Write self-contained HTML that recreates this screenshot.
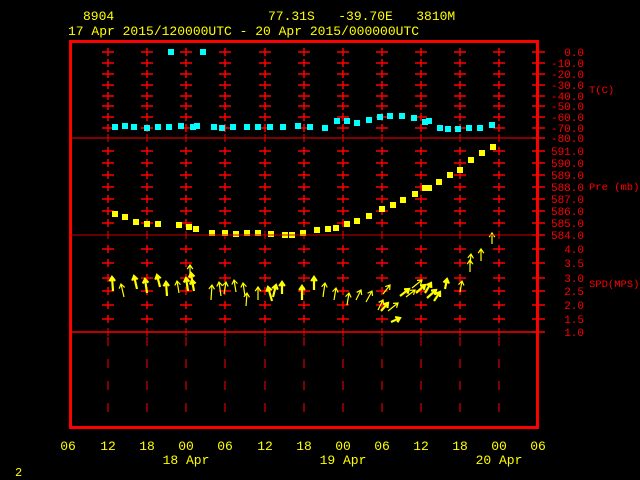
<!DOCTYPE html>
<html><head><meta charset="utf-8"><style>
html,body{margin:0;padding:0;background:#000;}
svg{display:block;}
text{font-family:"Liberation Mono","DejaVu Sans Mono",monospace;}
</style></head><body>
<svg id="s" width="640" height="480" viewBox="0 0 640 480" xmlns="http://www.w3.org/2000/svg">
<rect width="640" height="480" fill="#000"/>
<g id="grid"></g>
<g id="data"></g>
<rect x="70.5" y="41.5" width="467" height="386" fill="none" stroke="#f00" stroke-width="3"/>
<line x1="70" y1="138" x2="538" y2="138" stroke="#f00" stroke-width="1"/>
<line x1="70" y1="235" x2="538" y2="235" stroke="#c00" stroke-width="1"/>
<line x1="70" y1="332" x2="538" y2="332" stroke="#f00" stroke-width="1.5"/>
<g fill="#ff0" font-size="13">
<text x="83" y="20">8904</text>
<text x="268" y="20" xml:space="preserve">77.31S   -39.70E   3810M</text>
<text x="68" y="35">17 Apr 2015/120000UTC - 20 Apr 2015/000000UTC</text>
<g text-anchor="middle">
<text x="68" y="450">06</text><text x="108" y="450">12</text><text x="147" y="450">18</text>
<text x="186" y="450">00</text><text x="225" y="450">06</text><text x="265" y="450">12</text>
<text x="304" y="450">18</text><text x="343" y="450">00</text><text x="382" y="450">06</text>
<text x="421" y="450">12</text><text x="460" y="450">18</text><text x="499" y="450">00</text>
<text x="538" y="450">06</text>
<text x="186" y="464">18 Apr</text><text x="343" y="464">19 Apr</text><text x="499" y="464">20 Apr</text>
</g>
<text x="15" y="476" font-size="12">2</text>
</g>
<g fill="#f00" font-size="11" text-anchor="end" id="rl"></g>
<g fill="#f00" font-size="10.5">
<text x="589" y="93">T(C)</text>
<text x="589" y="190">Pre (mb)</text>
<text x="589" y="287">SPD(MPS)</text>
</g>
</svg>
<script>
var NS="http://www.w3.org/2000/svg";
function el(p,t,a){var e=document.createElementNS(NS,t);for(var k in a)e.setAttribute(k,a[k]);p.appendChild(e);return e;}
var g=document.getElementById('grid'),d=document.getElementById('data'),rl=document.getElementById('rl');
var ticks=[[52,"0.0"],[63,"-10.0"],[74,"-20.0"],[85,"-30.0"],[96,"-40.0"],[106,"-50.0"],[117,"-60.0"],[128,"-70.0"],[138,"-80.0"],
[151,"591.0"],[163,"590.0"],[175,"589.0"],[187,"588.0"],[199,"587.0"],[211,"586.0"],[223,"585.0"],[235,"584.0"],
[249,"4.0"],[263,"3.5"],[278,"3.0"],[291,"2.5"],[305,"2.0"],[319,"1.5"],[332,"1.0"]];
var xs=[108,147,186,225,265,304,343,382,421,460,499];
xs.forEach(function(x){
  var c="#f00";
  ticks.forEach(function(t){
    if(t[0]==138||t[0]==235||t[0]==332){el(g,'line',{x1:x,y1:t[0]-4,x2:x,y2:t[0]+4,stroke:c,'stroke-width':1});return;}
    el(g,'line',{x1:x,y1:t[0]-4,x2:x,y2:t[0]+4,stroke:c,'stroke-width':1.5});
    el(g,'line',{x1:x-6,y1:t[0],x2:x+6,y2:t[0],stroke:c,'stroke-width':1.5});
  });
  for(var y=337;y<420;y+=22) el(g,'line',{x1:x,y1:y,x2:x,y2:y+9,stroke:"#f00",'stroke-width':1});
});
ticks.forEach(function(t){
  el(g,'line',{x1:532,y1:t[0],x2:545,y2:t[0],stroke:"#f00",'stroke-width':1.5});
  var tx=el(rl,'text',{x:584,y:t[0]+4});tx.textContent=t[1];
});
var T=[[171,52],[203,52],[115,127],[125,126],[134,127],[147,128],[158,127],[169,127],[181,126],[193,127],[197,126],[214,127],[222,128],[233,127],[247,127],[258,127],[270,127],[283,127],[298,126],[310,127],[325,128],[337,121],[347,121],[357,123],[369,120],[380,117],[390,116],[402,116],[414,118],[425,122],[429,121],[440,128],[448,129],[458,129],[469,128],[480,128],[492,125]];
T.forEach(function(p){el(d,'rect',{x:p[0]-3,y:p[1]-3,width:6,height:6,fill:"#0ff"});});
var P=[[115,214],[125,217],[136,222],[147,224],[158,224],[179,225],[189,227],[196,229],[212,233],[225,233],[236,234],[247,233],[258,233],[271,234],[285,235],[292,235],[303,233],[317,230],[328,229],[336,228],[347,224],[357,221],[369,216],[382,209],[393,205],[403,200],[415,194],[425,188],[429,188],[439,182],[450,175],[460,170],[471,160],[482,153],[493,147]];
P.forEach(function(p){el(d,'rect',{x:p[0]-3,y:p[1]-3,width:6,height:6,fill:"#ff0"});});
var A=[[112,277,113,291,3],[121,284,124,297,1],[134,276,137,289,3],[145,279,147,293,3],[157,275,160,287,3],[166,282,167,296,2],[177,281,179,293,1],[190,265,190,278,1],[191,273,193,286,2],[192,280,194,291,3],[186,278,188,291,2],[212,285,211,300,1],[219,282,221,296,1],[226,282,224,294,1],[234,280,236,292,1],[243,283,245,296,1],[247,293,246,306,1],[258,287,258,300,1],[268,287,272,301,3],[276,285,273,297,2],[282,282,282,294,2],[302,286,302,300,3],[314,277,314,290,3],[325,283,323,297,1],[336,288,334,300,1],[349,293,347,305,1],[361,290,356,300,1],[372,291,366,302,1],[383,300,378,310,1],[390,285,383,294,1],[388,303,381,311,3],[398,303,388,311,1],[400,318,391,322,2],[409,289,400,296,2],[415,290,406,297,1],[422,280,412,288,1],[425,285,416,293,3],[431,283,425,293,3],[436,290,427,298,2],[440,292,434,301,3],[447,279,445,289,3],[462,281,460,292,1],[471,254,470,265,1],[470,260,470,272,1],[481,249,481,261,1],[492,233,492,244,1]];
A.forEach(function(a){
  var tx=a[0],ty=a[1],bx=a[2],by=a[3],w=a[4];
  var dx=tx-bx,dy=ty-by,L=Math.sqrt(dx*dx+dy*dy);var ux=dx/L,uy=dy/L;
  var h=5;
  var c=Math.cos(0.6),s=Math.sin(0.6);
  var lx=tx-h*(ux*c-uy*s),ly=ty-h*(uy*c+ux*s);
  var rx=tx-h*(ux*c+uy*s),ry=ty-h*(uy*c-ux*s);
  el(d,'path',{d:"M"+bx+" "+by+"L"+tx+" "+ty+"M"+lx+" "+ly+"L"+tx+" "+ty+"L"+rx+" "+ry,stroke:"#ff0",'stroke-width':w>1?2.2:1.2,fill:"none"});
});
</script>
</body></html>
